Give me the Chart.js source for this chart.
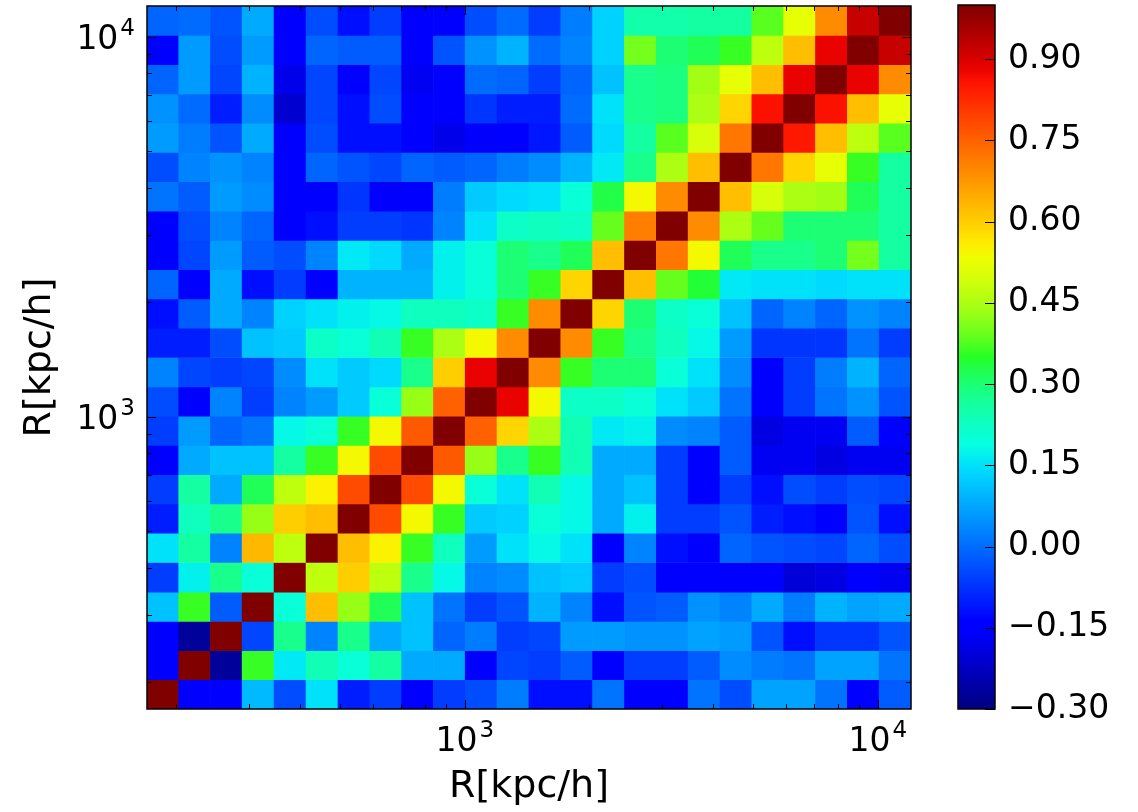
<!DOCTYPE html>
<html>
<head>
<meta charset="utf-8">
<title>Matriz de correlação R</title>
<script src="https://cdn.jsdelivr.net/npm/chart.js@4.4.0/dist/chart.umd.min.js"></script>
<style>
  html, body { margin: 0; padding: 0; background: #fff; }
  #wrap { position: relative; width: 1138px; height: 812px; }
  #wrap canvas { position: absolute; top: 0; }
  #matrix { left: 0; }
  #cbar { left: 940px; }
</style>
</head>
<body>
<div id="wrap">
  <canvas id="matrix" width="1138" height="812"></canvas>
  <canvas id="cbar" width="198" height="812"></canvas>
</div>
<script>
// Bordas dos bins em R [kpc/h] (mesmos bins nos dois eixos)
const binEdges = [170, 203, 242, 289, 345, 413, 493, 589, 703, 840, 1002, 1197,
                  1430, 1708, 2039, 2436, 2909, 3474, 4149, 4955, 5916, 7066, 8440, 10076, 12035];

// Coeficientes de correlação, linha a linha do maior R (topo) para o menor (base)
const corr = [
  [-0.01, 0.00, -0.03, 0.08, -0.14, -0.04, -0.12, -0.06, -0.14, -0.14, -0.04, 0.00, -0.06, 0.02, 0.13, 0.25, 0.25, 0.26, 0.26, 0.38, 0.52, 0.69, 0.92, 1.00],
  [-0.14, 0.06, -0.04, 0.06, -0.15, -0.01, -0.02, -0.02, -0.15, -0.03, 0.05, 0.09, 0.00, 0.03, 0.13, 0.40, 0.30, 0.32, 0.36, 0.47, 0.62, 0.88, 1.00, 0.92],
  [-0.01, 0.06, -0.05, 0.09, -0.18, -0.05, -0.15, -0.05, -0.17, -0.15, 0.00, -0.01, -0.06, -0.01, 0.11, 0.28, 0.29, 0.44, 0.52, 0.62, 0.88, 1.00, 0.88, 0.69],
  [0.05, 0.00, -0.10, 0.04, -0.21, -0.05, -0.12, -0.04, -0.15, -0.15, -0.07, -0.10, -0.10, 0.00, 0.15, 0.28, 0.29, 0.45, 0.59, 0.86, 1.00, 0.86, 0.62, 0.52],
  [0.06, 0.02, -0.03, 0.08, -0.15, -0.04, -0.12, -0.12, -0.15, -0.18, -0.16, -0.15, -0.11, -0.02, 0.14, 0.26, 0.38, 0.50, 0.72, 1.00, 0.85, 0.62, 0.47, 0.38],
  [-0.04, 0.03, 0.05, 0.03, -0.14, -0.01, -0.03, -0.05, -0.01, -0.02, -0.01, 0.02, 0.04, 0.09, 0.16, 0.28, 0.45, 0.62, 1.00, 0.72, 0.59, 0.52, 0.36, 0.26],
  [0.01, -0.02, 0.06, 0.04, -0.15, -0.15, -0.07, -0.16, -0.14, 0.02, 0.12, 0.14, 0.15, 0.20, 0.33, 0.54, 0.69, 1.00, 0.62, 0.50, 0.45, 0.44, 0.32, 0.26],
  [-0.15, -0.04, 0.03, -0.01, -0.15, -0.12, -0.06, -0.06, -0.07, 0.03, 0.15, 0.22, 0.23, 0.22, 0.39, 0.71, 1.00, 0.69, 0.45, 0.39, 0.30, 0.30, 0.30, 0.26],
  [-0.15, -0.05, 0.06, -0.02, -0.04, 0.03, 0.16, 0.14, 0.08, 0.17, 0.20, 0.30, 0.28, 0.32, 0.62, 1.00, 0.72, 0.54, 0.32, 0.28, 0.28, 0.30, 0.40, 0.26],
  [-0.01, -0.15, 0.08, -0.12, -0.06, -0.15, 0.09, 0.09, 0.09, 0.17, 0.20, 0.30, 0.36, 0.59, 1.00, 0.62, 0.39, 0.34, 0.16, 0.15, 0.15, 0.14, 0.15, 0.15],
  [-0.12, -0.02, 0.08, 0.03, 0.13, 0.15, 0.17, 0.18, 0.23, 0.23, 0.22, 0.36, 0.69, 1.00, 0.59, 0.30, 0.22, 0.20, 0.11, -0.01, 0.03, -0.01, 0.05, 0.03],
  [-0.10, -0.10, -0.04, 0.11, 0.12, 0.22, 0.20, 0.24, 0.36, 0.45, 0.54, 0.69, 1.00, 0.69, 0.36, 0.28, 0.23, 0.18, 0.06, -0.07, -0.07, -0.07, 0.01, -0.06],
  [0.03, -0.05, -0.06, -0.05, 0.04, 0.15, 0.12, 0.14, 0.28, 0.60, 0.88, 1.00, 0.69, 0.36, 0.30, 0.30, 0.20, 0.15, 0.04, -0.15, -0.06, 0.02, 0.09, -0.01],
  [-0.04, -0.15, 0.03, -0.06, 0.03, 0.06, 0.12, 0.20, 0.43, 0.75, 1.00, 0.88, 0.54, 0.22, 0.22, 0.20, 0.15, 0.12, 0.01, -0.15, -0.06, 0.01, 0.05, -0.03],
  [-0.06, 0.06, -0.01, 0.01, 0.18, 0.20, 0.36, 0.54, 0.76, 1.00, 0.75, 0.59, 0.45, 0.24, 0.16, 0.17, 0.04, 0.03, -0.02, -0.19, -0.17, -0.17, -0.02, -0.15],
  [-0.15, 0.08, 0.11, 0.11, 0.26, 0.36, 0.54, 0.78, 1.00, 0.76, 0.43, 0.28, 0.36, 0.24, 0.08, 0.08, -0.06, -0.15, -0.02, -0.17, -0.17, -0.19, -0.17, -0.17],
  [-0.06, 0.26, 0.08, 0.32, 0.47, 0.55, 0.78, 1.00, 0.78, 0.54, 0.20, 0.15, 0.24, 0.18, 0.08, 0.11, -0.06, -0.15, -0.06, -0.12, -0.04, -0.06, -0.04, -0.05],
  [-0.10, 0.23, 0.28, 0.43, 0.60, 0.62, 1.00, 0.78, 0.54, 0.36, 0.12, 0.13, 0.20, 0.18, 0.08, 0.17, -0.06, -0.06, -0.03, -0.10, -0.12, -0.15, -0.03, -0.12],
  [0.15, 0.26, 0.03, 0.63, 0.47, 1.00, 0.62, 0.55, 0.36, 0.23, 0.06, 0.15, 0.18, 0.15, -0.15, 0.03, -0.12, -0.15, -0.01, -0.03, -0.04, -0.05, -0.01, -0.04],
  [-0.06, 0.17, 0.28, 0.20, 1.00, 0.47, 0.60, 0.47, 0.28, 0.18, 0.03, 0.04, 0.11, 0.12, -0.06, -0.04, -0.15, -0.15, -0.14, -0.15, -0.20, -0.19, -0.15, -0.17],
  [0.11, 0.36, -0.02, 1.00, 0.20, 0.62, 0.43, 0.32, 0.11, 0.01, -0.06, -0.03, 0.09, 0.03, -0.12, -0.03, -0.02, 0.05, 0.03, 0.08, 0.02, 0.09, 0.07, 0.08],
  [-0.15, -0.27, 1.00, -0.05, 0.28, 0.03, 0.28, 0.08, 0.11, -0.01, 0.02, -0.06, -0.05, 0.06, 0.06, 0.05, 0.05, 0.07, 0.06, -0.03, -0.12, -0.07, -0.07, -0.03],
  [-0.15, 1.00, -0.27, 0.36, 0.16, 0.24, 0.20, 0.26, 0.08, 0.08, -0.15, -0.05, -0.06, -0.02, -0.15, -0.06, -0.06, -0.02, 0.04, 0.02, 0.01, 0.07, 0.07, 0.01],
  [1.00, -0.14, -0.14, 0.10, -0.04, 0.15, -0.10, -0.06, -0.15, -0.06, -0.04, 0.02, -0.12, -0.12, 0.01, -0.15, -0.15, 0.01, -0.04, 0.07, 0.07, 0.01, -0.14, -0.02]
];

// Limites da escala de cores e rótulos
const vMin = -0.3;
const vMax = 1.0;
const cbarTicks = [-0.30, -0.15, 0.00, 0.15, 0.30, 0.45, 0.60, 0.75, 0.90];
const rTicks = [1000, 10000];
const rTickBase = '10';
const rTickExp = ['3', '4'];
const minorSteps = [2, 3, 4, 5, 6, 7, 8, 9];

const FONT = "'DejaVu Sans', sans-serif";
Chart.defaults.font.family = FONT;
Chart.defaults.color = '#000';

// Mapa de cores "jet" (segmentos do matplotlib), com saturação reforçada
const jetRed = [[0, 0], [0.35, 0], [0.66, 1], [0.89, 1], [1, 0.5]];
const jetGreen = [[0, 0], [0.125, 0], [0.375, 1], [0.64, 1], [0.91, 0], [1, 0]];
const jetBlue = [[0, 0.5], [0.11, 1], [0.34, 1], [0.65, 0], [1, 0]];

function interp(segs, t) {
    for (let i = 1; i < segs.length; i++) {
        if (t <= segs[i][0]) {
            const [t0, v0] = segs[i - 1];
            const [t1, v1] = segs[i];
            return v0 + (v1 - v0) * (t - t0) / (t1 - t0);
        }
    }
    return segs[segs.length - 1][1];
}

function jet(t) {
    t = Math.min(1, Math.max(0, t));
    let c = [interp(jetRed, t), interp(jetGreen, t), interp(jetBlue, t)];
    const hi = Math.max(...c), lo = Math.min(...c);
    if (hi > lo) {
        const lo2 = lo * 0.3;
        c = c.map(x => lo2 + (x - lo) * (hi - lo2) / (hi - lo));
    }
    const [r, g, b] = c.map(x => Math.round(255 * x));
    return `rgb(${r},${g},${b})`;
}

function colorFor(v) {
    return jet((v - vMin) / (vMax - vMin));
}

// Ticks logarítmicos: décadas (maiores) e 2..9 (menores)
function logTicks(scale) {
    const ticks = [];
    const p0 = Math.floor(Math.log10(scale.min));
    const p1 = Math.floor(Math.log10(scale.max));
    for (let p = p0; p <= p1; p++) {
        const dec = Math.pow(10, p);
        if (dec >= scale.min && dec <= scale.max) ticks.push({ value: dec });
        minorSteps.forEach(m => {
            const v = m * dec;
            if (v >= scale.min && v <= scale.max) ticks.push({ value: v });
        });
    }
    ticks.sort((a, b) => a.value - b.value);
    scale.ticks = ticks;
}

// Rótulo "10^n" com expoente elevado, como o mathtext
function drawPower(ctx, exp, x, baseline, align) {
    ctx.font = `33px ${FONT}`;
    const wBase = ctx.measureText(rTickBase).width;
    ctx.font = `23px ${FONT}`;
    const wExp = ctx.measureText(exp).width;
    const total = wBase + 2 + wExp;
    const x0 = align === 'right' ? x - total : x - total / 2;
    ctx.textAlign = 'left';
    ctx.textBaseline = 'alphabetic';
    ctx.font = `33px ${FONT}`;
    ctx.fillText(rTickBase, x0, baseline);
    ctx.font = `23px ${FONT}`;
    ctx.fillText(exp, x0 + wBase + 2, baseline - 14);
}

// Marcas internas nos quatro lados, moldura e rótulos das décadas
const frameTicks = {
    id: 'frameTicks',
    afterDatasetsDraw(chart) {
        const { ctx, chartArea: a, scales } = chart;
        ctx.save();
        ctx.strokeStyle = '#000';
        ctx.lineWidth = 1;
        ctx.beginPath();
        scales.x.ticks.forEach(t => {
            const px = Math.round(scales.x.getPixelForValue(t.value)) + 0.5;
            const len = rTicks.includes(t.value) ? 9 : 5;
            ctx.moveTo(px, a.bottom); ctx.lineTo(px, a.bottom - len);
            ctx.moveTo(px, a.top); ctx.lineTo(px, a.top + len);
        });
        scales.y.ticks.forEach(t => {
            const py = Math.round(scales.y.getPixelForValue(t.value)) + 0.5;
            const len = rTicks.includes(t.value) ? 9 : 5;
            ctx.moveTo(a.left, py); ctx.lineTo(a.left + len, py);
            ctx.moveTo(a.right, py); ctx.lineTo(a.right - len, py);
        });
        ctx.stroke();
        ctx.lineWidth = 1.5;
        ctx.strokeRect(a.left, a.top, a.width, a.height);

        ctx.fillStyle = '#000';
        rTicks.forEach((v, k) => {
            drawPower(ctx, rTickExp[k], scales.x.getPixelForValue(v), a.bottom + 42, 'center');
            drawPower(ctx, rTickExp[k], a.left - 12, scales.y.getPixelForValue(v) + 12, 'right');
        });
        ctx.restore();
    }
};

const nBins = binEdges.length - 1;
const centers = binEdges.slice(0, nBins).map((e, i) => Math.sqrt(e * binEdges[i + 1]));

// Um dataset por linha da matriz: barras flutuantes cobrindo o bin em y,
// todas na mesma pilha para ocuparem a largura inteira de cada coluna
const datasets = corr.map((row, r) => {
    const j = nBins - 1 - r;
    return {
        data: row.map((v, i) => ({ x: centers[i], y: [binEdges[j], binEdges[j + 1]] })),
        backgroundColor: row.map(colorFor),
        stack: 'cells',
        barThickness: 'flex',
        categoryPercentage: 1,
        barPercentage: 1,
        borderWidth: 0
    };
});

new Chart(document.getElementById('matrix'), {
    type: 'bar',
    data: { datasets },
    options: {
        responsive: false,
        animation: false,
        layout: { padding: { top: 6, right: 227, left: 0, bottom: 0 } },
        plugins: { legend: { display: false }, tooltip: { enabled: false } },
        scales: {
            x: {
                type: 'logarithmic',
                position: 'bottom',
                min: binEdges[0],
                max: binEdges[nBins],
                offset: false,
                grid: { display: false },
                border: { display: false },
                afterBuildTicks: logTicks,
                afterFit: s => { s.height = 103; s.paddingLeft = 0; s.paddingRight = 0; },
                ticks: { display: false },
                title: { display: true, text: 'R[kpc/h]', font: { size: 38 }, padding: { top: 0, bottom: 2 } }
            },
            y: {
                type: 'logarithmic',
                position: 'left',
                stacked: false,
                min: binEdges[0],
                max: binEdges[nBins],
                grid: { display: false },
                border: { display: false },
                afterBuildTicks: logTicks,
                afterFit: s => { s.width = 147; s.paddingTop = 0; s.paddingBottom = 0; },
                ticks: { display: false },
                title: { display: true, text: 'R[kpc/h]', font: { size: 38 }, padding: { top: 17, bottom: 0 } }
            }
        }
    },
    plugins: [frameTicks]
});

// Barra de cores
const cbarFrame = {
    id: 'cbarFrame',
    afterDatasetsDraw(chart) {
        const { ctx, chartArea: a, scales } = chart;
        ctx.save();
        ctx.strokeStyle = '#000';
        ctx.lineWidth = 1;
        ctx.beginPath();
        cbarTicks.forEach(v => {
            const py = Math.round(scales.y.getPixelForValue(v)) + 0.5;
            ctx.moveTo(a.right, py);
            ctx.lineTo(a.right - 10, py);
        });
        ctx.stroke();
        ctx.lineWidth = 1.5;
        ctx.strokeRect(a.left, a.top, a.width, a.height);
        ctx.restore();
    }
};

new Chart(document.getElementById('cbar'), {
    type: 'bar',
    data: {
        labels: [''],
        datasets: [{
            data: [[vMin, vMax]],
            backgroundColor: (c) => {
                const a = c.chart.chartArea;
                if (!a) return null;
                const g = c.chart.ctx.createLinearGradient(0, a.bottom, 0, a.top);
                for (let k = 0; k <= 64; k++) g.addColorStop(k / 64, jet(k / 64));
                return g;
            },
            barPercentage: 1,
            categoryPercentage: 1,
            borderWidth: 0
        }]
    },
    options: {
        responsive: false,
        animation: false,
        layout: { padding: { left: 18, top: 5, bottom: 103, right: 0 } },
        plugins: { legend: { display: false }, tooltip: { enabled: false } },
        scales: {
            x: { display: false },
            y: {
                position: 'right',
                min: vMin,
                max: vMax,
                grid: { display: false },
                border: { display: false },
                afterBuildTicks: s => { s.ticks = cbarTicks.map(v => ({ value: v })); },
                afterFit: s => { s.width = 143; s.paddingTop = 0; s.paddingBottom = 0; },
                ticks: {
                    autoSkip: false,
                    padding: 5,
                    font: { size: 33 },
                    callback: v => (v < 0 ? '\u2212' : '') + Math.abs(v).toFixed(2)
                }
            }
        }
    },
    plugins: [cbarFrame]
});
</script>
</body>
</html>
